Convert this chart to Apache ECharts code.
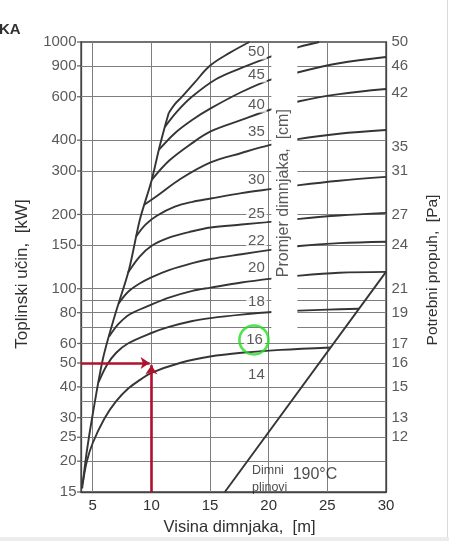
<!DOCTYPE html>
<html><head><meta charset="utf-8">
<script src="https://cdn.jsdelivr.net/npm/echarts@6/dist/echarts.min.js"></script>
<style>html,body{margin:0;padding:0;background:#fff}#c{width:449px;height:541px}</style>
</head><body><div id="c"></div>
<script>
// ---------- data ----------
const xMin = 4, xMax = 30, yMin = 15, yMax = 1000;
const xTickValues = [5, 10, 15, 20, 25, 30];
const xGridValues = [5, 10, 15, 20, 25];
const yGridValues = [20, 25, 30, 35, 40, 50, 60, 70, 80, 90, 100, 150, 200, 300, 400, 600, 800];
const leftTickValues = [1000, 800, 600, 400, 300, 200, 150, 100, 80, 60, 50, 40, 30, 25, 20, 15];
const leftTickLabels = ['1000', '900', '600', '400', '300', '200', '150', '100', '80', '60', '50', '40', '30', '25', '20', '15'];
const rightTickValues = [1000, 800, 620, 375, 300, 200, 150, 100, 80, 60, 50, 40, 30, 25];
const rightTickLabels = ['50', '46', '42', '35', '31', '27', '24', '21', '19', '17', '16', '15', '13', '12'];
const diameterLabels = ['50', '45', '40', '35', '30', '25', '22', '20', '18', '16', '14'];
const diameterLabelX = [18.95, 18.95, 18.95, 18.95, 18.95, 18.95, 18.95, 18.95, 18.95, 18.8, 18.95];
const diameterLabelY = [911, 735, 555, 432, 276, 201, 156, 121, 88.4, 62, 44.7];

const envelope = [[4.1, 15.5], [4.5, 22], [5.0, 31], [5.87, 52], [6.89, 78], [8.1, 120], [9.01, 190], [10.03, 276], [10.63, 365], [11.14, 452], [11.48, 515]];
const curve50 = [[11.48, 515], [12.0, 560], [12.58, 598], [13.7, 686], [14.96, 799], [16.66, 903], [18.36, 1000]];
const curve45 = [[11.14, 452], [12.2, 523], [13.43, 598], [15.5, 706], [17.68, 785], [20.06, 869], [22.61, 955], [24.3, 1000]];
const curve40 = [[10.63, 365], [12.0, 427], [13.5, 484], [15.05, 538], [17.68, 627], [20.06, 701], [22.61, 756], [26, 820], [30, 869]];
const curve35 = [[10.03, 276], [11.5, 330], [13.5, 390], [15.05, 434], [17.68, 483], [20.06, 530], [22.61, 575], [26, 615], [30, 645]];
const curve30 = [[9.4, 219], [10.5, 238], [12.5, 279], [15.05, 325], [17.68, 355], [20.06, 382], [22.61, 405], [26, 425], [30, 440]];
const curve25 = [[8.7, 163], [9.5, 182], [10.5, 198], [12, 215], [13.5, 225], [15.05, 232], [17.68, 244], [20.31, 254], [22.61, 263], [26, 274], [30, 284]];
const curve22 = [[8.0, 116], [9, 135], [10, 149], [11.5, 161], [13.5, 171], [15.05, 177], [17.68, 182], [20.31, 187], [22.61, 192], [26, 198], [30, 203]];
const curve20 = [[7.2, 87], [8, 97], [9, 105], [9.95, 111], [11.5, 119], [13.5, 127], [15.05, 132], [17.68, 138], [20.31, 144], [22.61, 149], [26, 153], [30, 155]];
const curve18 = [[6.4, 64], [7.2, 72], [8.2, 79], [9.95, 86], [11.5, 92], [13.5, 98], [15.05, 101], [17.68, 106], [20.31, 110], [22.61, 113], [26, 116], [30, 117]];
const curve16 = [[5.5, 41.8], [6.2, 49], [7, 55], [8, 60], [9.95, 66], [11.5, 70], [13.5, 74], [15.05, 76], [17.68, 78.5], [20.31, 80.5], [22.61, 81.5], [25, 82.3], [27.71, 83]];
const curve14 = [[4.15, 16.3], [4.5, 20], [5, 23.7], [6, 29.8], [7, 35], [8, 39.3], [9, 42.6], [9.95, 45.5], [12.5, 50.1], [15, 53.1], [17.68, 55], [21, 56.5], [25.29, 57.8]];
const flueGasLine = [[16.26, 15], [30, 117]];
const powerArrow = [[4, 50], [9.85, 50]];
const heightArrow = [[10, 15], [10, 49]];
const chosenDiameter = [18.74, 62];
const boxCorners = [[20.23, 69], [22.44, 985]];
const promjerPos = [21.3, 244];
const dimniPos = [18.53, 17.0];
const tempPos = [22.0, 17.7];

// ---------- chart ----------
const FONT = 'Liberation Sans, Arial, sans-serif';
const INK = '#353535';
const TXT = '#303030';
const chart = echarts.init(document.getElementById('c'), null, {renderer: 'canvas'});

const curves = [curve50, curve45, curve40, curve35, curve30, curve25, curve22, curve20, curve18, curve16, curve14];
const curveSeries = curves.map((d, i) => ({
  name: 'D' + diameterLabels[i], type: 'line', data: d, showSymbol: false, smooth: 0.35,
  lineStyle: {color: INK, width: 1.9}, z: 2, silent: true, clip: true
}));

function labelSeries(points, texts, opts, z) {
  return Object.assign({
    type: 'scatter', symbolSize: 1, itemStyle: {color: 'rgba(0,0,0,0)'}, silent: true, clip: false, z: z || 5,
    data: points.map((p, i) => ({value: p, name: texts[i]})),
  }, opts);
}

const option = {
  animation: false,
  title: {text: 'KA', left: -1, top: 22, padding: 0, textStyle: {fontSize: 15, fontWeight: 'bold', color: TXT, fontFamily: FONT}},
  graphic: [
    {type: 'rect', shape: {x: 0, y: 537, width: 449, height: 4}, style: {fill: '#ececec'}, silent: true},
    {type: 'line', shape: {x1: 447.5, y1: 0, x2: 447.5, y2: 537}, style: {stroke: '#dadada', lineWidth: 1}, silent: true}
  ],
  grid: {left: 81, right: 62, top: 42, bottom: 49, show: true, borderColor: '#444', borderWidth: 1.3, backgroundColor: '#fff'},
  xAxis: {
    type: 'value', min: xMin, max: xMax,
    name: 'Visina dimnjaka,  [m]', nameLocation: 'middle', nameGap: 27,
    nameTextStyle: {fontSize: 16.5, color: TXT, fontFamily: FONT, padding: [0, 0, 0, 12]},
    axisLine: {lineStyle: {color: '#444', width: 1.3}},
    axisTick: {show: false},
    splitLine: {show: false},
    axisLabel: {customValues: xTickValues, margin: 6, fontSize: 15, color: TXT, fontFamily: FONT}
  },
  yAxis: [{
    type: 'log', logBase: 10, min: yMin, max: yMax, position: 'left',
    name: 'Toplinski učin,  [kW]', nameLocation: 'middle', nameGap: 50, nameRotate: 90,
    nameTextStyle: {fontSize: 17, color: TXT, fontFamily: FONT, padding: [0, 14, 0, 0]},
    axisLine: {show: true, lineStyle: {color: '#444', width: 1.3}},
    axisTick: {show: false}, axisLabel: {show: false}, splitLine: {show: false}, minorTick: {show: false}
  }, {
    type: 'log', logBase: 10, min: yMin, max: yMax, position: 'right',
    name: 'Potrebni propuh,  [Pa]', nameLocation: 'middle', nameGap: 39, nameRotate: 90,
    nameTextStyle: {fontSize: 15.5, color: TXT, fontFamily: FONT, padding: [0, 6, 0, 0]},
    axisLine: {show: true, lineStyle: {color: '#444', width: 1.3}},
    axisTick: {show: false}, axisLabel: {show: false}, splitLine: {show: false}
  }],
  series: [
    {
      type: 'line', data: [], silent: true,
      markLine: {
        silent: true, symbol: 'none', z: 1, animation: false,
        label: {show: false},
        lineStyle: {color: '#7e7e7e', width: 1, type: 'solid'},
        data: xGridValues.map(v => ({xAxis: v})).concat(yGridValues.map(v => ({yAxis: v})))
      }
    },
    {type: 'line', data: envelope, showSymbol: false, smooth: 0.3, lineStyle: {color: INK, width: 1.9}, z: 2, silent: true},
    ...curveSeries,
    {type: 'line', data: flueGasLine, showSymbol: false, lineStyle: {color: INK, width: 1.9}, z: 2, silent: true},
    {
      type: 'line', data: [], silent: true,
      markArea: {silent: true, z: 3, itemStyle: {color: '#fff'}, label: {show: false},
        data: [[{coord: boxCorners[0]}, {coord: boxCorners[1]}]]}
    },
    {
      type: 'line', data: [], silent: true,
      markLine: {
        silent: true, z: 6, symbol: ['none', 'arrow'], symbolSize: 9, label: {show: false},
        lineStyle: {color: '#b0112c', width: 2.6, type: 'solid'}, itemStyle: {color: '#b0112c'},
        data: [[{coord: powerArrow[0]}, {coord: powerArrow[1]}], [{coord: heightArrow[0]}, {coord: heightArrow[1]}]]
      }
    },
    labelSeries(leftTickValues.map(v => [xMin, v]), leftTickLabels, {symbol: 'rect', symbolSize: [4, 1.3], symbolOffset: [-2, 0], itemStyle: {color: '#444'}}, 4),
    labelSeries(leftTickValues.map(v => [xMin, v]), leftTickLabels, {label: {show: true, position: 'left', distance: 4, formatter: '{b}', fontSize: 15, color: TXT, fontFamily: FONT}}),
    labelSeries(rightTickValues.map(v => [xMax, v]), rightTickLabels, {label: {show: true, position: 'right', distance: 5, formatter: '{b}', fontSize: 15, color: TXT, fontFamily: FONT}}),
    labelSeries(diameterLabels.map((t, i) => [diameterLabelX[i], diameterLabelY[i]]), diameterLabels, {label: {show: true, position: 'inside', formatter: '{b}', fontSize: 15, color: TXT, fontFamily: FONT, backgroundColor: '#fff', padding: [0, 2]}}, 5),
    labelSeries([promjerPos], ['Promjer dimnjaka,  [cm]'], {label: {show: true, position: 'inside', rotate: 90, formatter: '{b}', fontSize: 16, color: TXT, fontFamily: FONT}}, 5),
    labelSeries([dimniPos], ['Dimni\nplinovi'], {label: {show: true, position: 'right', distance: 0, formatter: '{b}', fontSize: 12.5, lineHeight: 17, align: 'left', color: '#222', fontFamily: FONT}}, 5),
    labelSeries([tempPos], ['190°C'], {label: {show: true, position: 'right', distance: 0, formatter: '{b}', fontSize: 16, color: '#222', fontFamily: FONT}}, 5),
    {type: 'scatter', data: [chosenDiameter], symbol: 'circle', symbolSize: 29, clip: false, silent: true, z: 7,
      itemStyle: {color: 'rgba(0,0,0,0)', borderColor: '#22dd22', borderWidth: 2.6}}
  ]
};
chart.setOption(option);
</script>
</body></html>
